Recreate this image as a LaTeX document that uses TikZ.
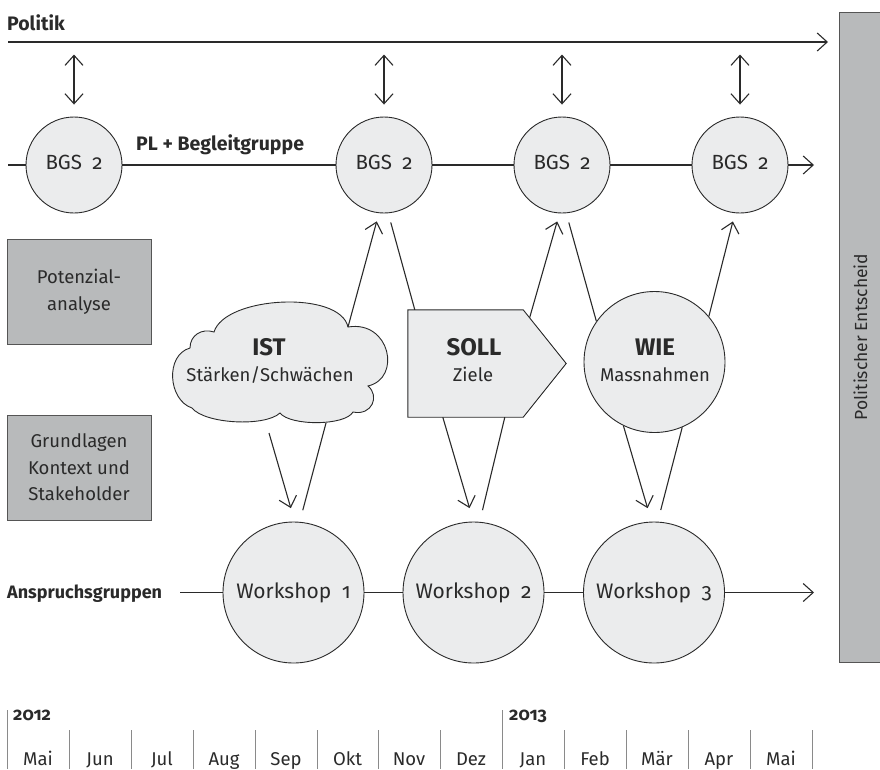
\documentclass[tikz,border=0pt]{standalone}
\usepackage{fontspec}
\setmainfont{Fira Sans}[Numbers=OldStyle]
\usetikzlibrary{arrows.meta,calc}
\definecolor{lightfill}{HTML}{EBECED}
\definecolor{boxgray}{HTML}{B8BABB}
\definecolor{ink}{HTML}{2A2A2A}
\definecolor{sepgray}{HTML}{8A8A8A}
\begin{document}
\begin{tikzpicture}[x=1pt,y=-1pt,
  font=\fontsize{18.5}{26.5}\selectfont,
  every node/.style={text=ink},
  bgs/.style={circle, draw=ink, line width=0.9pt, fill=lightfill, minimum size=96pt, inner sep=0pt, text height=14pt, text depth=6pt, font=\fontsize{20.5}{24}\selectfont},
  ws/.style={circle, draw=ink, line width=0.9pt, fill=lightfill, minimum size=141pt, inner sep=0pt, font=\fontsize{21}{24}\selectfont},
  graybox/.style={draw=ink!80, fill=boxgray, line width=1pt, minimum width=144pt, minimum height=105pt, inner sep=0pt, align=center},
  conn/.style={draw=ink, line width=1.1pt},
  arr/.style={conn, -{Straight Barb[length=10pt,width=18pt]}},
  dblarr/.style={conn, {Straight Barb[length=10pt,width=18pt]}-{Straight Barb[length=10pt,width=18pt]}},
  lbl/.style={font=\fontsize{19.5}{22}\selectfont\bfseries, anchor=base west, inner sep=0pt},
  big/.style={font=\fontsize{24}{28}\selectfont\bfseries, anchor=base, inner sep=0pt},
  sub/.style={anchor=base, inner sep=0pt},
  sepline/.style={draw=sepgray, line width=1pt},
  month/.style={anchor=base, inner sep=0pt}
]
\useasboundingbox (0,0) rectangle (880,769);

% ---------- Politik ----------
\node[lbl] (politik) at (7,30) {Politik};
\coordinate (pol-s) at (8,42);
\coordinate (pol-e) at (828,42);
\draw[arr] (pol-s) -- (pol-e);

% ---------- right box ----------
\node[draw=ink!80, fill=boxgray, line width=1pt, rotate=90, minimum width=650pt, minimum height=43pt, inner sep=0pt, font=\fontsize{17.5}{20}\selectfont] (entscheid) at (860.5,337) {Politischer Entscheid};

% ---------- BGS row ----------
\node[bgs] (b1) at (74,165) {BGS\enspace 2};
\node[bgs] (b2) at (384,165) {BGS\enspace 2};
\node[bgs] (b3) at (562,165) {BGS\enspace 2};
\node[bgs] (b4) at (740,165) {BGS\enspace 2};
\coordinate (pl-s) at (8,165);
\coordinate (pl-e) at (814,165);
\draw[arr] (pl-s) -- (b1) -- (b2) -- (b3) -- (b4) -- (pl-e);
\node[lbl] (plbg) at (136,150) {PL + Begleitgruppe};

\foreach \b in {b1,b2,b3,b4}{
  \draw[dblarr] ([yshift=62pt]\b.north) -- ([yshift=12pt]\b.north);
}

% ---------- left boxes ----------
\node[graybox] (pot) at (79,291.5) {Potenzial-\\analyse};
\node[graybox] (grund) at (79,467.5) {Grundlagen\\Kontext und\\Stakeholder};

% ---------- IST cloud ----------
\draw[fill=lightfill, draw=ink, line width=0.9pt]
  (192,408) .. controls (168,400) and (165,355) .. (190,348)
  .. controls (190,335) and (202,328) .. (214,332)
  .. controls (225,296) and (340,290) .. (348,327)
  .. controls (390,320) and (402,378) .. (368,386)
  .. controls (380,396) and (372,416) .. (353,412)
  .. controls (345,426) and (290,426) .. (280,413)
  .. controls (265,427) and (205,424) .. (192,408) -- cycle;
\node[big] (ist) at (269,355) {IST};
\node[sub] (ist-t) at (270,381.7) {Stärken/Schwächen};
\coordinate (ist-ne) at (348,327);
\coordinate (ist-s1) at (269,433);
\coordinate (ist-s2) at (326,423);

% ---------- SOLL ----------
\node[minimum width=115pt, minimum height=107pt, inner sep=0pt] (soll) at (465.5,363.5) {};
\draw[fill=lightfill, draw=ink, line width=0.9pt]
  (soll.north west) -- (soll.north east) -- ($(soll.east)+(43,0)$) -- (soll.south east) -- (soll.south west) -- cycle;
\node[big] (soll-t) at (474,355) {SOLL};
\node[sub] (soll-s) at (473,381.7) {Ziele};

% ---------- WIE ----------
\node[ws] (wie) at (654.5,362) {};
\node[big] (wie-t) at (655,355) {WIE};
\node[sub] (wie-s) at (655,381.7) {Massnahmen};

% ---------- Workshops ----------
\node[ws] (w1) at (293.5,592.5) {Workshop\enspace 1};
\node[ws] (w2) at (473.5,592.5) {Workshop\enspace 2};
\node[ws] (w3) at (654,592.5) {Workshop\enspace 3};
\node[lbl, font=\fontsize{18}{22}\selectfont\bfseries] (anspr) at (7,598) {Anspruchsgruppen};
\coordinate (an-s) at (180,592.5);
\coordinate (an-e) at (814,592.5);
\draw[arr] (an-s) -- (w1) -- (w2) -- (w3) -- (an-e);

% ---------- loop connectors ----------
\draw[arr, shorten >=8.5pt] (ist-ne) -- (b2.264);
\draw[conn, shorten <=9.5pt] (b2.275) -- ($(soll.north west)+(7,0)$);
\draw[arr, shorten >=8.4pt] ($(soll.north east)+(6.4,8)$) -- (b3.267);
\draw[conn, shorten <=9.5pt] (b3.275) -- (wie.145);
\draw[arr, shorten >=8.5pt] (wie.40) -- (b4.264);

\draw[arr, shorten >=14pt] (ist-s1) -- (w1.89);
\draw[conn, shorten <=12pt] (w1.85) -- (ist-s2);
\draw[arr, shorten >=14pt] ($(soll.south west)+(35,0)$) -- (w2.90);
\draw[conn, shorten <=12pt] (w2.85) -- ($(soll.south west)+(97,0)$);
\draw[arr, shorten >=14pt] (wie.244) -- (w3.92);
\draw[conn, shorten <=12pt] (w3.87) -- (wie.293);

% ---------- timeline ----------
\draw[sepline] (7,710) -- (7,769);
\draw[sepline] (502,710) -- (502,769);
\foreach \x in {69,131,193,255,317,378,440,564,626,688,750,812}{
  \draw[sepline] (\x,730) -- (\x,769);
}
\node[lbl, font=\fontsize{18}{20}\selectfont\bfseries] (y2012) at (13,720) {2012};
\node[lbl, font=\fontsize{18}{20}\selectfont\bfseries] (y2013) at (509,720) {2013};
\foreach \x/\m [count=\i] in {38/Mai,100/Jun,162/Jul,224/Aug,286/Sep,347.5/Okt,409/Nov,471/Dez,533/Jan,595/Feb,657/Mär,719/Apr,781/Mai}{
  \node[month] (m\i) at (\x,765) {\m};
}
\end{tikzpicture}
\end{document}
